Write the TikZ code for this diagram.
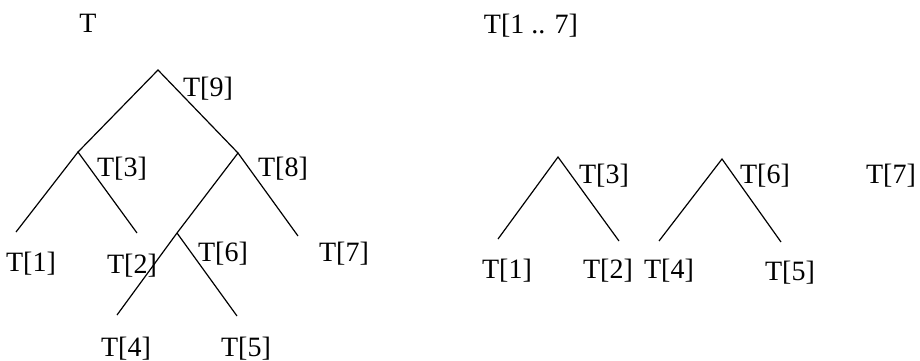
\documentclass[tikz,border=0pt]{standalone}
\usepackage{fontspec}
\setmainfont{Liberation Serif}
\usetikzlibrary{positioning}
\tikzset{
 lbl/.style={inner sep=0pt, anchor=base, font=\fontsize{14}{16}\selectfont},
 edge/.style={draw=black, line width=0.6pt}
}
\begin{document}
\begin{tikzpicture}[x=0.5pt,y=-0.5pt]
\useasboundingbox (0,0) rectangle (920,360);
% the tree T
\node[lbl] (tt) at (88,32) {T};
\coordinate (n9) at (158,70);
\coordinate (n3) at (78,152);
\coordinate (n8) at (238,153);
\coordinate (n6) at (177,233);
\coordinate (e1) at (16,232);
\coordinate (e2) at (137,233);
\coordinate (e4) at (117,315);
\coordinate (e5) at (237,316);
\coordinate (e7) at (298,236);
\node[lbl] (a9) at (208,96) {T[9]};
\node[lbl] (a3) at (122,176) {T[3]};
\node[lbl] (a8) at (283,176) {T[8]};
\node[lbl] (a6) at (223,261) {T[6]};
\node[lbl] (a7) at (344,261) {T[7]};
\node[lbl] (a1) at (31,271) {T[1]};
\node[lbl] (a2) at (132,273) {T[2]};
\node[lbl] (a4) at (126,356) {T[4]};
\node[lbl] (a5) at (246,356) {T[5]};
\draw[edge] (n3) -- (n9) -- (n8);
\draw[edge] (e1) -- (n3) -- (e2);
\draw[edge] (e4) -- (n6) -- (n8) -- (e7);
\draw[edge] (n6) -- (e5);
% the array T[1 .. 7]
\node[lbl] (arr) at (531,33) {T[1 .. 7]};
\coordinate (m3) at (558,157);
\coordinate (m6) at (722,159);
\coordinate (f1) at (498,239);
\coordinate (f2) at (619,241);
\coordinate (f4) at (659,241);
\coordinate (f5) at (781,242);
\node[lbl] (b3) at (604,183) {T[3]};
\node[lbl] (b6) at (765,183) {T[6]};
\node[lbl] (b7) at (891,183) {T[7]};
\node[lbl] (b1) at (507,278) {T[1]};
\node[lbl] (b2) at (608,278) {T[2]};
\node[lbl] (b4) at (669,278) {T[4]};
\node[lbl] (b5) at (790,280) {T[5]};
\draw[edge] (f1) -- (m3) -- (f2);
\draw[edge] (f4) -- (m6) -- (f5);
\end{tikzpicture}
\end{document}
